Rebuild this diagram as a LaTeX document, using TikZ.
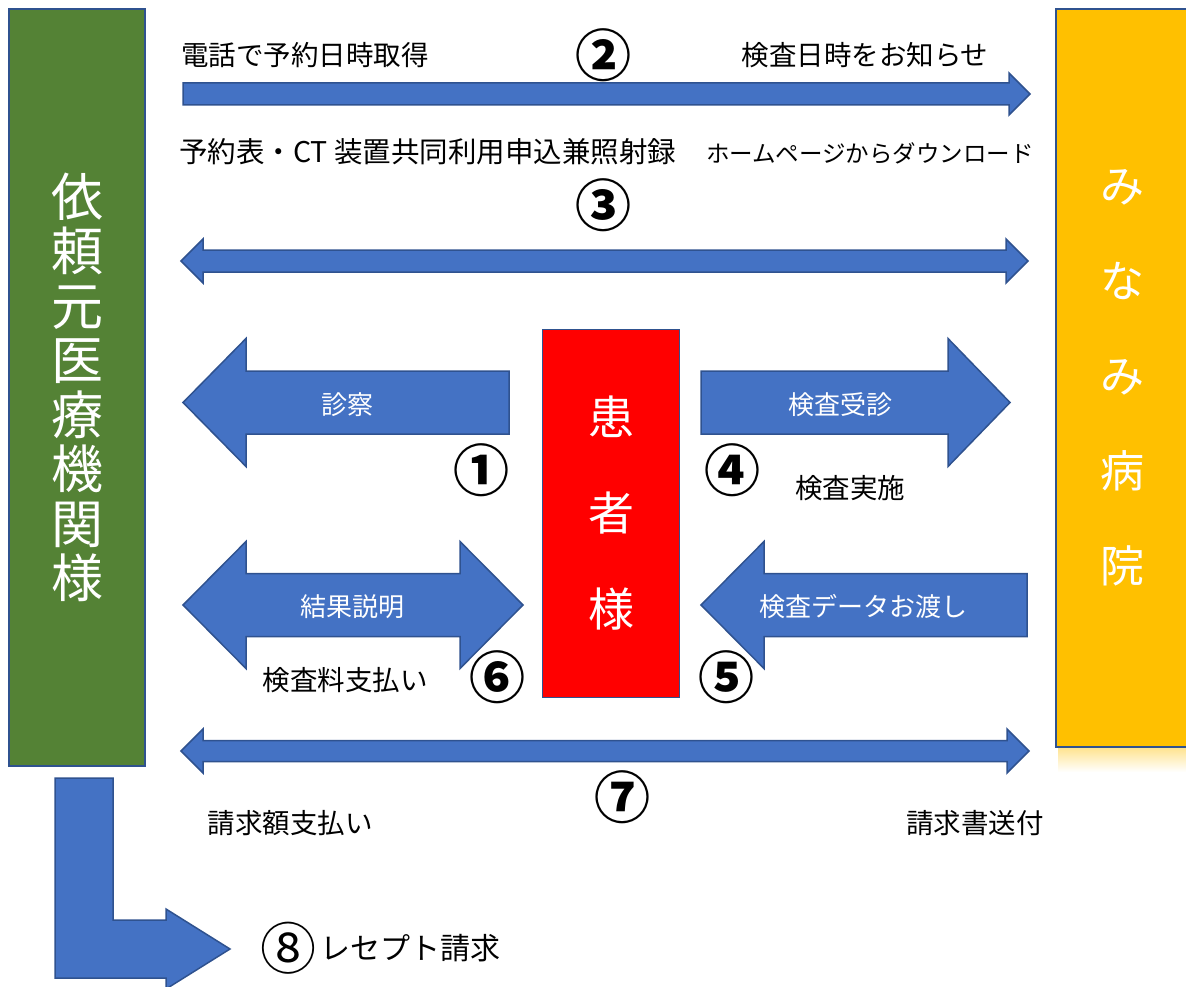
\documentclass[tikz,border=0pt]{standalone}
\usepackage{fontspec}
\setmainfont{Noto Sans CJK JP}
\usetikzlibrary{positioning}
\definecolor{arrowblue}{HTML}{4472C4}
\definecolor{edgeblue}{HTML}{2F528F}
\definecolor{clinicgreen}{HTML}{548235}
\definecolor{hospitalorange}{HTML}{FFC000}
\definecolor{patientred}{HTML}{FF0000}
\tikzset{
x=1pt, y=-1pt, % one unit is one pixel of the layout, y grows downward
box/.style={draw=edgeblue, line width=1.5pt, text=white, align=center, inner sep=0pt}, % the three party boxes
blockarrow/.style={fill=arrowblue, draw=edgeblue, line width=1.5pt, line join=miter}, % the wide arrows
note/.style={font=\fontsize{27.5}{30}\selectfont, inner sep=0pt}, % black captions
inlabel/.style={note, text=white, font=\fontsize{26}{29}\selectfont}, % captions inside the arrows
num/.style={font=\bfseries\fontsize{56}{60}\selectfont, inner sep=0pt}, % circled step numbers
}
% block arrows: #1 start/tip x, #2 end/tip x, #3 centre y, #4 half shaft, #5 half head, #6 head length
\newcommand{\rightblock}[6]{\filldraw[blockarrow] (#1,#3-#4) -- (#2-#6,#3-#4) -- (#2-#6,#3-#5) -- (#2,#3) -- (#2-#6,#3+#5) -- (#2-#6,#3+#4) -- (#1,#3+#4) -- cycle;}
\newcommand{\leftblock}[6]{\filldraw[blockarrow] (#2,#3-#4) -- (#1+#6,#3-#4) -- (#1+#6,#3-#5) -- (#1,#3) -- (#1+#6,#3+#5) -- (#1+#6,#3+#4) -- (#2,#3+#4) -- cycle;}
\newcommand{\bothblock}[6]{\filldraw[blockarrow] (#1,#3) -- (#1+#6,#3-#5) -- (#1+#6,#3-#4) -- (#2-#6,#3-#4) -- (#2-#6,#3-#5) -- (#2,#3) -- (#2-#6,#3+#5) -- (#2-#6,#3+#4) -- (#1+#6,#3+#4) -- (#1+#6,#3+#5) -- cycle;}

\begin{document}
\begin{tikzpicture}
    \useasboundingbox (0,0) rectangle (1186,987);

    % the three parties
    \shade[top color=hospitalorange!45!white, bottom color=white] (1058,747) rectangle (1186,772);
    \node[box, fill=clinicgreen, minimum width=136pt, minimum height=757pt, font=\fontsize{52}{54.5}\selectfont] (clinic) at (77,387.5) {依\\頼\\元\\医\\療\\機\\関\\様};
    \node[box, fill=hospitalorange, minimum width=133pt, minimum height=738pt, font=\fontsize{44}{95}\selectfont] (hospital) at (1122.5,378) {み\\な\\み\\病\\院};
    \node[box, fill=patientred, minimum width=137pt, minimum height=368pt, font=\fontsize{46}{96}\selectfont] (patient) at (611,513.5) {患\\者\\様};

    % arrows
    \rightblock{183}{1030}{94}{11}{21}{21}
    \bothblock{181}{1028}{261}{11}{22}{22}
    \leftblock{183}{509}{402.5}{31.5}{64}{63}
    \rightblock{701}{1010}{402.5}{31.5}{64}{62}
    \bothblock{183}{523}{605}{31.5}{63.5}{63}
    \leftblock{701}{1027}{605}{31.5}{63.5}{63}
    \bothblock{181}{1029}{751}{10.5}{22}{22}
    \filldraw[blockarrow] (55,778) -- (113,778) -- (113,920) -- (166,920) -- (166,909) -- (230,949) -- (166,989) -- (166,978) -- (55,978) -- cycle;

    % captions and step numbers
    \node[note] (call) at (305,55) {電話で予約日時取得};
    \node[num] (n2) at (603,55) {②};
    \node[note] (notify) at (865,55) {検査日時をお知らせ};
    \node[note, anchor=west, font=\fontsize{28.5}{31}\selectfont] (forms) at (179,152) {予約表・CT 装置共同利用申込兼照射録};
    \node[note, font=\fontsize{23.5}{26}\selectfont] (download) at (870,153) {ホームページからダウンロード};
    \node[num] (n3) at (603,205) {③};

    \node[inlabel] (exam) at (347,405) {診察};
    \node[num] (n1) at (481,470) {①};
    \node[inlabel] (visit) at (840,405) {検査受診};
    \node[num] (n4) at (732,470) {④};
    \node[note] (scan) at (850,488) {検査実施};

    \node[inlabel] (result) at (352,607) {結果説明};
    \node[note] (fee) at (345,680) {検査料支払い};
    \node[num] (n6) at (497,677) {⑥};
    \node[inlabel] (handover) at (863,607) {検査データお渡し};
    \node[num] (n5) at (726,677) {⑤};

    \node[num] (n7) at (622,797) {⑦};
    \node[note] (pay) at (290,823) {請求額支払い};
    \node[note] (invoice) at (975,823) {請求書送付};

    \node[num, font=\fontsize{56}{60}\selectfont] (n8) at (288,948) {⑧};
    \node[note, font=\fontsize{30}{33}\selectfont, right=4pt of n8] (receipt) {レセプト請求};
\end{tikzpicture}
\end{document}
